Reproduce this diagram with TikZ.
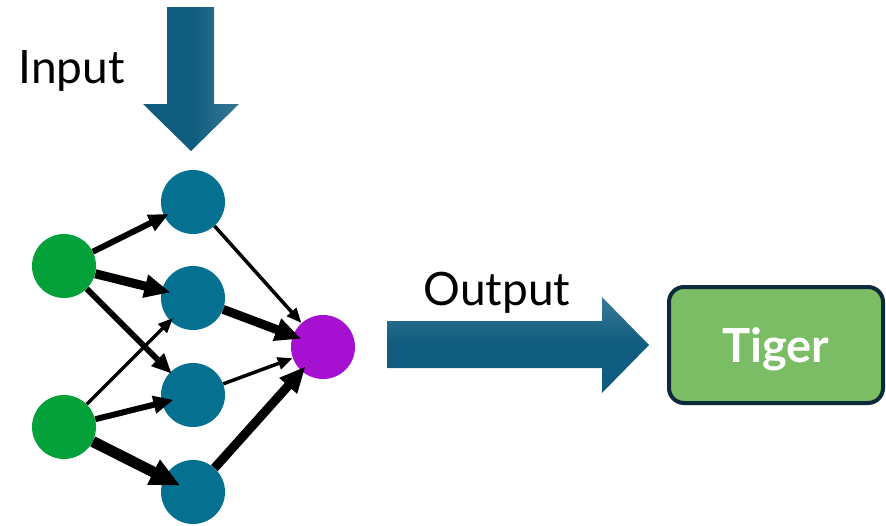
\documentclass[tikz,border=0pt]{standalone}
\usepackage{fontspec}
\setmainfont{Lato}
\usepackage{tikz}
\usetikzlibrary{arrows.meta}
\definecolor{teal600}{HTML}{05708F}
\definecolor{green600}{HTML}{04A03A}
\definecolor{purple600}{HTML}{A610D0}
\definecolor{leaf400}{HTML}{7BBD64}
\definecolor{navy900}{HTML}{0D2A3A}
\definecolor{ocean700}{HTML}{0F5C7E}
\definecolor{ocean500}{HTML}{3A7896}
\tikzset{
  every node/.style={font=\fontsize{46}{50}\selectfont},
  unit/.style={circle, inner sep=0pt, minimum size=64pt},
  inunit/.style={unit, fill=green600},
  hidunit/.style={unit, fill=teal600},
  outunit/.style={unit, fill=purple600},
  wthin/.style={line width=3.5pt, -{Triangle[length=15pt,width=12pt]}},
  wmid/.style={line width=6pt, -{Triangle[length=20pt,width=17pt]}, shorten >=-5pt},
  wthick/.style={line width=9pt, -{Triangle[length=26pt,width=22pt]}, shorten >=-9pt},
  wheavy/.style={line width=11pt, -{Triangle[length=30pt,width=26pt]}, shorten >=-18pt},
  classbox/.style={
    rectangle, rounded corners=15pt,
    draw=navy900, line width=4pt, fill=leaf400,
    minimum width=214pt, minimum height=116pt,
    text=white, font=\fontsize{47}{50}\selectfont\bfseries,
    text depth=0pt
  },
}

\begin{document}
\begin{tikzpicture}[x=1pt, y=-1pt]
  \useasboundingbox (0,0) rectangle (886,525);

  % block arrows
  \shade[left color=ocean700, right color=ocean500, middle color=ocean700]
    (167,7) -- (214,7) -- (214,104) -- (239,104) -- (191,151)
    -- (143,104) -- (167,104) -- cycle;
  \node[anchor=base west] (inlabel) at (15,83) {Input};

  \shade[top color=ocean500, bottom color=ocean700, middle color=ocean700]
    (387,321) -- (602,321) -- (602,297) -- (649,345) -- (602,393)
    -- (602,368) -- (387,368) -- cycle;
  \node[anchor=base] (outlabel) at (497,305) {Output};

  % network
  \node[inunit] (g1) at (64,266) {};
  \node[inunit] (g2) at (64,427) {};
  \node[hidunit] (h1) at (193,202) {};
  \node[hidunit] (h2) at (193,298) {};
  \node[hidunit] (h3) at (193,395) {};
  \node[hidunit] (h4) at (193,492) {};
  \node[outunit] (o) at (323,347) {};

  \draw[wmid] (g1) -- (h1);
  \draw[wthick] (g1) -- (h2);
  \draw[wmid, shorten >=-2pt] (g1) -- (h3);
  \draw[wthin, shorten >=-4pt] (g2) -- (h2);
  \draw[wmid, shorten >=-12pt] (g2) -- (h3);
  \draw[wheavy] (g2) -- (h4);
  \draw[wthin] (h1) -- (o);
  \draw[wthick] (h2) -- (o);
  \draw[wthin] (h3) -- (o);
  \draw[wthick, shorten >=-6pt] (h4) -- (o);

  \node[classbox] (tiger) at (776,345) {Tiger};
\end{tikzpicture}
\end{document}
